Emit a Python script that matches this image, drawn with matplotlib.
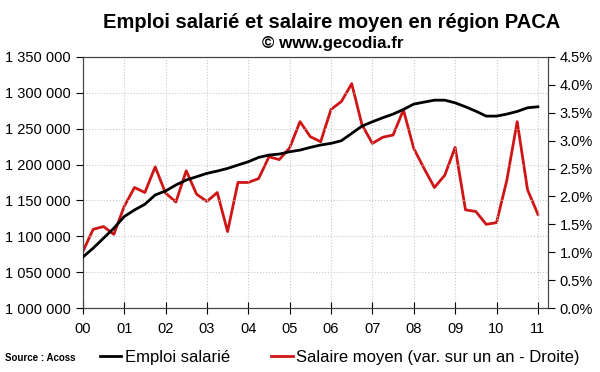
import numpy as np
import matplotlib
matplotlib.use('Agg')
import matplotlib.pyplot as plt
from matplotlib.ticker import FuncFormatter

plt.rcParams['font.family'] = ['Liberation Sans', 'DejaVu Sans']

# quarterly points, 2000 -> 2011
quarters = np.arange(45) * 0.25

emploi = [1070900, 1083400, 1097300, 1111200, 1127400, 1136700, 1144600, 1157600,
          1163100, 1171500, 1178400, 1183000, 1187700, 1190900, 1194600, 1199300,
          1203900, 1209900, 1213200, 1214600, 1217800, 1220100, 1223900, 1227200,
          1229500, 1233200, 1243400, 1253600, 1259600, 1265200, 1270300, 1276800,
          1284200, 1287000, 1289700, 1289700, 1286000, 1280500, 1274400, 1267500,
          1267500, 1270300, 1274000, 1279100, 1280500]

salaire = [1.01, 1.41, 1.46, 1.32, 1.82, 2.16, 2.07, 2.53,
           2.06, 1.90, 2.46, 2.04, 1.91, 2.07, 1.37, 2.25,
           2.25, 2.32, 2.71, 2.66, 2.87, 3.34, 3.07, 2.98,
           3.56, 3.70, 4.02, 3.28, 2.95, 3.06, 3.10, 3.55,
           2.86, 2.50, 2.16, 2.38, 2.88, 1.76, 1.73, 1.50,
           1.53, 2.29, 3.34, 2.12, 1.68]

year_labels = ['00', '01', '02', '03', '04', '05', '06', '07', '08', '09', '10', '11']

fig = plt.figure(figsize=(6, 3.72), dpi=100)
ax = fig.add_axes([0.138, 0.172, 0.775, 0.675])
ax2 = ax.twinx()

ax.plot(quarters, emploi, color='black', lw=2, label='Emploi salarié', zorder=3)
ax2.plot(quarters, salaire, color='#cf1515', lw=2, label='Salaire moyen (var. sur un an - Droite)')

ax.set_zorder(ax2.get_zorder() + 1)
ax.patch.set_visible(False)

ax.set_xlim(0, 11.24)
ax.set_ylim(1000000, 1350000)
ax2.set_ylim(0, 4.5)
ax.set_xticks(range(12))
ax.set_xticklabels(year_labels)
ax.set_yticks(np.arange(1000000, 1350001, 50000))
ax.yaxis.set_major_formatter(FuncFormatter(lambda v, p: '{:,.0f}'.format(v).replace(',', ' ')))
ax2.set_yticks(np.arange(0, 4.51, 0.5))
ax2.yaxis.set_major_formatter(FuncFormatter(lambda v, p: '%.1f%%' % v))

ax.grid(True, color='#c8c8c8', ls=':', lw=0.8)
ax.tick_params(axis='x', direction='inout', length=8, labelsize=10.5, pad=6, width=0.8)
ax.tick_params(axis='y', direction='out', length=5, labelsize=10.5, width=0.8)
ax2.tick_params(axis='y', direction='out', length=5, labelsize=10.5, width=0.8)
for a in (ax, ax2):
    for s in a.spines.values():
        s.set_color('#444444')
        s.set_linewidth(0.8)

fig.text(0.553, 0.94, 'Emploi salarié et salaire moyen en région PACA',
         ha='center', va='center', fontsize=14.5, fontweight='bold')
fig.text(0.555, 0.882, '© www.gecodia.fr', ha='center', va='center',
         fontsize=12.2, fontweight='bold')
fig.text(0.008, 0.038, 'Source : Acoss', ha='left', va='center', fontsize=7, fontweight='bold')

h1, l1 = ax.get_legend_handles_labels()
h2, l2 = ax2.get_legend_handles_labels()
fig.legend(h1 + h2, l1 + l2, loc='center left', bbox_to_anchor=(0.155, 0.04), ncol=2,
           frameon=False, fontsize=12, handlelength=1.3, handletextpad=0.2,
           columnspacing=2.5, borderaxespad=0)

fig.savefig('out.png', dpi=100)
